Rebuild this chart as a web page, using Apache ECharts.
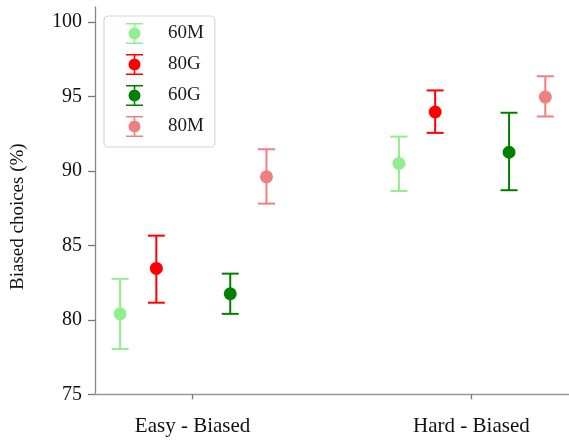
<!DOCTYPE html>
<html>
<head>
<meta charset="utf-8">
<script src="https://cdn.jsdelivr.net/npm/echarts@6/dist/echarts.min.js"></script>
<style>
  html, body { margin: 0; padding: 0; background: #fff; }
  #chart { width: 569px; height: 443px; }
</style>
</head>
<body>
<div id="chart"></div>
<script>
// categories on the x axis
var categories = ['Easy - Biased', 'Hard - Biased'];
var yTicks = [75, 80, 85, 90, 95, 100];

// group names (legend order) and colours
var groups = ['60M', '80G', '60G', '80M'];
var colors = ['#90EE90', '#FF0000', '#008000', '#F08080'];

// mean and error-bar ends, one value per category
var mean60M = [80.4, 90.5];
var low60M  = [78.05, 88.65];
var high60M = [82.75, 92.3];

var mean80G = [83.45, 93.95];
var low80G  = [81.15, 92.55];
var high80G = [85.65, 95.4];

var mean60G = [81.75, 91.25];
var low60G  = [80.4, 88.7];
var high60G = [83.1, 93.9];

var mean80M = [89.6, 94.95];
var low80M  = [87.8, 93.65];
var high80M = [91.45, 96.35];

var means = [mean60M, mean80G, mean60G, mean80M];
var lows = [low60M, low80G, low60G, low80M];
var highs = [high60M, high80G, high60G, high80M];

// horizontal dodge of each group around its category
var dodge = [-0.26, -0.13, 0.135, 0.265];

var FONT = '"Liberation Serif", "Times New Roman", serif';

// legend glyph: cap, bar, dot, bar, cap
var errIcon = 'path://M0,0 H17 V1.6 H0 Z M7.7,1.6 H9.3 V4.5 H7.7 Z ' +
  'M2.5,10.5 A6,6 0 1,1 14.5,10.5 A6,6 0 1,1 2.5,10.5 Z ' +
  'M7.7,16.5 H9.3 V19.4 H7.7 Z M0,19.4 H17 V21 H0 Z';

function renderErr(params, api) {
  var x = api.value(0);
  var top = api.coord([x, api.value(3)]);
  var bot = api.coord([x, api.value(2)]);
  var mid = api.coord([x, api.value(1)]);
  var col = api.visual('color');
  var cap = 8.5;
  var st = { stroke: col, lineWidth: 2 };
  return {
    type: 'group',
    children: [
      { type: 'line', shape: { x1: top[0], y1: top[1], x2: bot[0], y2: bot[1] }, style: st },
      { type: 'line', shape: { x1: top[0] - cap, y1: top[1], x2: top[0] + cap, y2: top[1] }, style: st },
      { type: 'line', shape: { x1: bot[0] - cap, y1: bot[1], x2: bot[0] + cap, y2: bot[1] }, style: st },
      { type: 'circle', shape: { cx: mid[0], cy: mid[1], r: 6.5 }, style: { fill: col } }
    ]
  };
}

var series = groups.map(function (g, gi) {
  var data = categories.map(function (c, ci) {
    return [ci + dodge[gi], means[gi][ci], lows[gi][ci], highs[gi][ci]];
  });
  return {
    name: g,
    type: 'custom',
    renderItem: renderErr,
    itemStyle: { color: colors[gi] },
    encode: { x: 0, y: [1, 2, 3] },
    data: data
  };
});

var chart = echarts.init(document.getElementById('chart'), null, { renderer: 'canvas' });
chart.setOption({
  animation: false,
  grid: { left: 95, top: 7, width: 476, height: 387.3, containLabel: false },
  legend: {
    data: groups.map(function (g) { return { name: g, icon: errIcon }; }),
    orient: 'vertical',
    left: 104,
    top: 16,
    itemWidth: 17,
    itemHeight: 21,
    itemGap: 10,
    padding: [7, 11, 10, 22],
    borderColor: '#d6d6d6',
    borderWidth: 1.2,
    borderRadius: 4,
    backgroundColor: '#fff',
    textStyle: { fontFamily: FONT, fontSize: 19, color: '#1a1a1a', padding: [0, 0, 0, 20] }
  },
  xAxis: {
    type: 'value',
    min: -0.35,
    max: 1.35,
    splitLine: { show: false },
    axisLine: { onZero: false, lineStyle: { color: '#999', width: 1.3 } },
    axisTick: { customValues: [0, 1], length: 5, lineStyle: { color: '#777', width: 1.3 } },
    axisLabel: {
      customValues: [0, 1],
      formatter: function (v) { return categories[Math.round(v)]; },
      fontFamily: FONT, fontSize: 21, color: '#111', margin: 22
    }
  },
  yAxis: {
    type: 'value',
    min: 75,
    max: 101,
    name: 'Biased choices (%)',
    nameLocation: 'middle',
    nameGap: 67,
    nameTextStyle: { fontFamily: FONT, fontSize: 19, color: '#111', padding: [0, 32, 0, 0] },
    splitLine: { show: false },
    axisLine: { show: true, onZero: false, lineStyle: { color: '#888', width: 1.3 } },
    axisTick: { show: true, customValues: yTicks, length: 7, lineStyle: { color: '#777', width: 1.3 } },
    axisLabel: { customValues: yTicks, fontFamily: FONT, fontSize: 20, color: '#111', margin: 13 }
  },
  series: series
});
</script>
</body>
</html>
